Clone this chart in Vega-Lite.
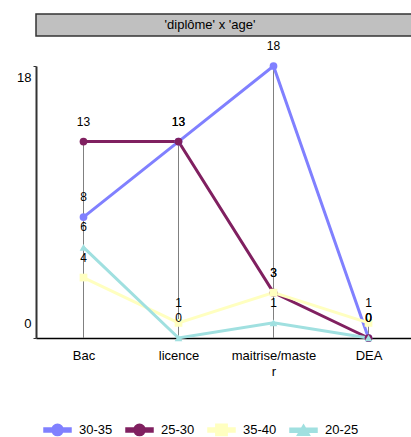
{
  "$schema": "https://vega.github.io/schema/vega-lite/v6.json",
  "padding": {"left": 9, "top": 13, "right": 0, "bottom": 0},
  "columns": 1,
  "align": "none",
  "bounds": "full",
  "spacing": {"row": 3, "column": 0},
  "config": {"font": "Liberation Sans", "view": {"stroke": null}},
  "concat": [
    {
      "width": 408,
      "height": 22,
      "view": {"fill": "#c0c0c0", "stroke": "#333333", "strokeWidth": 1.5},
      "data": {"values": [{"t": "'diplôme' x 'age'"}]},
      "mark": {"type": "text", "fontSize": 13, "color": "#000000", "dx": -30},
      "encoding": {"text": {"field": "t"}}
    },
    {
      "width": 380,
      "height": 272,
      "data": {
        "values": [
          {"series": "30-35", "diplome": "Bac", "value": 8},
          {"series": "30-35", "diplome": "licence", "value": 13},
          {"series": "30-35", "diplome": "maitrise/master", "value": 18},
          {"series": "30-35", "diplome": "DEA", "value": 0},
          {"series": "25-30", "diplome": "Bac", "value": 13},
          {"series": "25-30", "diplome": "licence", "value": 13},
          {"series": "25-30", "diplome": "maitrise/master", "value": 3},
          {"series": "25-30", "diplome": "DEA", "value": 0},
          {"series": "35-40", "diplome": "Bac", "value": 4},
          {"series": "35-40", "diplome": "licence", "value": 1},
          {"series": "35-40", "diplome": "maitrise/master", "value": 3},
          {"series": "35-40", "diplome": "DEA", "value": 1},
          {"series": "20-25", "diplome": "Bac", "value": 6},
          {"series": "20-25", "diplome": "licence", "value": 0},
          {"series": "20-25", "diplome": "maitrise/master", "value": 1},
          {"series": "20-25", "diplome": "DEA", "value": 0}
        ]
      },
      "encoding": {
        "x": {
          "field": "diplome",
          "type": "ordinal",
          "sort": ["Bac", "licence", "maitrise/master", "DEA"],
          "scale": {"type": "point", "padding": 0.5},
          "axis": {
            "title": null,
            "labelAngle": 0,
            "ticks": false,
            "grid": false,
            "domainColor": "#000000",
            "domainWidth": 1.5,
            "labelFontSize": 13,
            "labelPadding": 11,
            "labelColor": "#000000",
            "labelLineHeight": 16,
            "labelExpr": "datum.label === 'maitrise/master' ? ['maitrise/maste', 'r'] : datum.label"
          }
        },
        "y": {
          "field": "value",
          "type": "quantitative",
          "scale": {"domain": [0, 18], "nice": false},
          "axis": {
            "title": null,
            "values": [0, 18],
            "grid": false,
            "minExtent": 27,
            "domainColor": "#333333",
            "domainWidth": 2,
            "tickColor": "#333333",
            "tickSize": 3,
            "labelFontSize": 13,
            "labelPadding": 2,
            "labelColor": "#000000",
            "labelOffset": {"condition": {"test": "datum.value === 0", "value": -15}, "value": 11}
          }
        },
        "color": {
          "field": "series",
          "type": "nominal",
          "scale": {
            "domain": ["30-35", "25-30", "35-40", "20-25"],
            "range": ["#8080ff", "#802060", "#ffffc0", "#a0e0e0"]
          },
          "legend": {
            "orient": "none",
            "legendX": 7,
            "legendY": 401,
            "direction": "horizontal",
            "title": null,
            "symbolSize": 729,
            "labelFontSize": 13,
            "labelOffset": 7,
            "labelColor": "#000000",
            "columnPadding": 10,
            "encode": {
              "symbols": {
                "update": {
                  "shape": {"signal": "datum.value === '35-40' ? 'M-1,-0.15H1V0.15H-1Z M-0.42,-0.42H0.42V0.42H-0.42Z' : datum.value === '20-25' ? 'M-1,-0.15H1V0.15H-1Z M0,-0.4L0.45,0.36H-0.45Z' : 'M-1,-0.15H1V0.15H-1Z M0.42,0A0.42,0.42,0,1,1,-0.42,0A0.42,0.42,0,1,1,0.42,0Z'"},
                  "fill": {"scale": "color", "field": "value"},
                  "stroke": {"value": "transparent"},
                  "opacity": {"value": 1}
                }
              }
            }
          }
        }
      },
      "layer": [
        {
          "mark": {"type": "rule", "strokeWidth": 1},
          "encoding": {
            "y": {"aggregate": "max", "field": "value", "type": "quantitative"},
            "y2": {"datum": 0},
            "color": {"value": "#808080"}
          }
        },
        {
          "mark": {"type": "line", "strokeWidth": 3}
        },
        {
          "mark": {"type": "point", "filled": true, "size": 60, "opacity": 1},
          "encoding": {
            "shape": {
              "condition": [
                {"test": "datum.series === '35-40'", "value": "square"},
                {"test": "datum.series === '20-25'", "value": "triangle-up"}
              ],
              "value": "circle"
            }
          }
        },
        {
          "mark": {"type": "text", "dy": -20, "fontSize": 12},
          "encoding": {
            "text": {"field": "value", "type": "quantitative"},
            "color": {"value": "#000000"}
          }
        }
      ]
    }
  ]
}
